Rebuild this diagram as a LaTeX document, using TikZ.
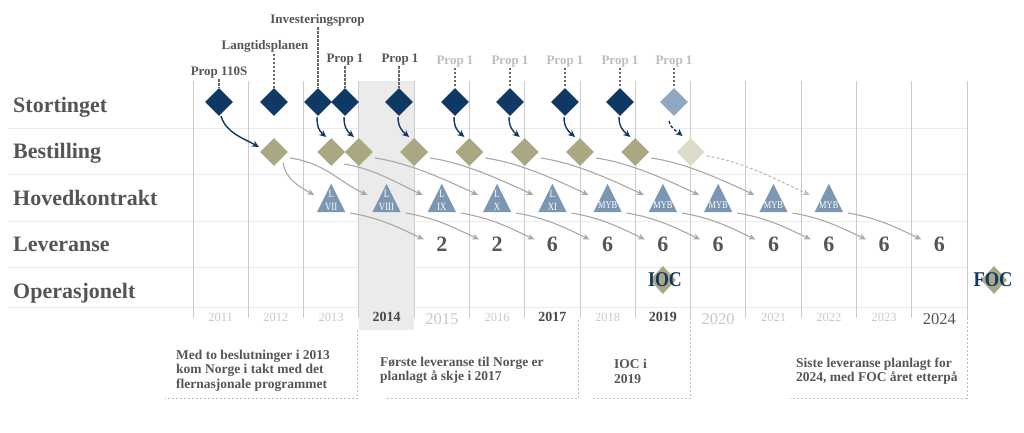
\documentclass[tikz,border=0pt]{standalone}
\usepackage{fontspec}
\setmainfont{Liberation Serif}
\usetikzlibrary{shapes.geometric,arrows.meta,calc}
\definecolor{navy}{HTML}{103864}
\definecolor{navylt}{HTML}{8FA7BF}
\definecolor{khaki}{HTML}{A9A883}
\definecolor{khakilt}{HTML}{DDDCCA}
\definecolor{tri}{HTML}{7B97B3}
\definecolor{txt}{HTML}{555555}
\definecolor{yrlt}{HTML}{C8C8C8}
\definecolor{proplt}{HTML}{BDBDBD}
\definecolor{gridv}{HTML}{CCCCCC}
\definecolor{gridh}{HTML}{ECECEC}
\definecolor{arrg}{HTML}{A8A8A8}
\definecolor{arrlt}{HTML}{BBBBBB}
\definecolor{hlgray}{HTML}{EBEBEB}
\definecolor{dashgray}{HTML}{666666}
\definecolor{boxgray}{HTML}{BBBBBB}
\begin{document}
\begin{tikzpicture}[x=1pt,y=-1pt,
  sdia/.style={diamond,minimum width=28pt,minimum height=28pt,inner sep=0pt,fill=navy},
  bdia/.style={diamond,minimum width=28pt,minimum height=28pt,inner sep=0pt,fill=khaki},
  tribox/.style={rectangle,minimum width=28pt,minimum height=28pt,inner sep=0pt},
  trl/.style={inner sep=0pt,text=white,font=\fontsize{11}{11}\selectfont},
  rowlab/.style={anchor=base west,inner sep=0pt,text=txt,font=\fontsize{22}{22}\selectfont\bfseries},
  toplab/.style={anchor=base,inner sep=1pt,text=txt,font=\fontsize{13}{13}\selectfont\bfseries},
  levnum/.style={inner sep=0pt,text=txt,font=\fontsize{22}{22}\selectfont\bfseries},
  yrsmall/.style={anchor=base,inner sep=0pt,text=yrlt,font=\fontsize{12.5}{12.5}\selectfont},
  yrdark/.style={anchor=base,inner sep=0pt,text=txt!85!black,font=\fontsize{14}{14}\selectfont\bfseries},
  yrbig/.style={anchor=base,inner sep=0pt,text=yrlt,font=\fontsize{16.5}{16.5}\selectfont},
  boxtxt/.style={anchor=base west,inner sep=0pt,text=txt,font=\fontsize{13.5}{13.5}\selectfont\bfseries},
  garr/.style={draw=arrg,line width=1.1pt,-{Stealth[length=7pt,width=6pt]}},
  narr/.style={draw=navy,line width=1.4pt,-{Stealth[length=7pt,width=6.5pt]}},
  dashc/.style={draw=dashgray,line width=1.2pt,dash pattern=on 2.5pt off 1.5pt},
  boxedge/.style={draw=boxgray,line width=0.8pt,dash pattern=on 2pt off 2pt},
  opdia/.style={diamond,minimum width=26pt,minimum height=28pt,inner sep=0pt,fill=khaki},
  optxt/.style={inner sep=0pt,text=navy,font=\fontsize{21}{21}\selectfont\bfseries}
]
\useasboundingbox (0,0) rectangle (1024,432);
% highlighted year
\fill[color=hlgray] (358.86,81) rectangle (414.14,330);
% grid
\foreach \y in {128,174.5,221,267,307} \draw[color=gridh,line width=1pt] (8,\y) -- (967,\y);
\foreach \i in {0,...,14} \draw[color=gridv,line width=0.9pt] ({193+55.2857*\i},81) -- ({193+55.2857*\i},318);
% row labels
\node[rowlab] (rS) at (13,112) {Stortinget};
\node[rowlab] (rB) at (13,158.5) {Bestilling};
\node[rowlab] (rH) at (13,205) {Hovedkontrakt};
\node[rowlab] (rL) at (13,251.5) {Leveranse};
\node[rowlab] (rO) at (13,298) {Operasjonelt};
% Stortinget
\node[sdia] (S1) at (219,102) {};
\node[sdia] (S2) at (274,102) {};
\node[sdia] (S3) at (318,102) {};
\node[sdia] (S4) at (345,102) {};
\node[sdia] (S5) at (399,102) {};
\node[sdia] (S6) at (455,102) {};
\node[sdia] (S7) at (510,102) {};
\node[sdia] (S8) at (565,102) {};
\node[sdia] (S9) at (620,102) {};
\node[sdia,fill=navylt] (S10) at (674,102) {};
% top labels
\node[toplab] (P0) at (219,75.5) {Prop 110S};
\node[toplab] (P1) at (265,49.5) {Langtidsplanen};
\node[toplab] (P2) at (317.5,23.3) {Investeringsprop};
\node[toplab] (P3) at (345,62.3) {Prop 1};
\node[toplab] (P4) at (400,62.3) {Prop 1};
\node[toplab,text=proplt] (P5) at (455,64) {Prop 1};
\node[toplab,text=proplt] (P6) at (510,64) {Prop 1};
\node[toplab,text=proplt] (P7) at (565,64) {Prop 1};
\node[toplab,text=proplt] (P8) at (620,64) {Prop 1};
\node[toplab,text=proplt] (P9) at (674,64) {Prop 1};
\draw[dashc] (P0.south -| S1.north) -- (S1.north);
\draw[dashc] (P1.south -| S2.north) -- (S2.north);
\draw[dashc] (P2.south -| S3.north) -- (S3.north);
\draw[dashc] (P3.south -| S4.north) -- (S4.north);
\draw[dashc] (P4.south -| S5.north) -- (S5.north);
\draw[dashc] (P5.south -| S6.north) -- (S6.north);
\draw[dashc] (P6.south -| S7.north) -- (S7.north);
\draw[dashc] (P7.south -| S8.north) -- (S8.north);
\draw[dashc] (P8.south -| S9.north) -- (S9.north);
\draw[dashc] (P9.south -| S10.north) -- (S10.north);
% Bestilling
\node[bdia] (D1) at (274,152) {};
\node[bdia] (D2) at (331.2,152) {};
\node[bdia] (D3) at (358.9,152) {};
\node[bdia] (D4) at (414.1,152) {};
\node[bdia] (D5) at (469.4,152) {};
\node[bdia] (D6) at (524.7,152) {};
\node[bdia] (D7) at (580,152) {};
\node[bdia] (D8) at (635.3,152) {};
\node[bdia,fill=khakilt] (D9) at (690.6,152) {};
% Hovedkontrakt
\foreach \n/\x in {1/331.2,2/386.5,3/441.8,4/497.1,5/552.4,6/607.6,7/662.9,8/718.2,9/773.5,10/828.8} {
  \node[tribox] (T\n) at (\x,198) {};
  \fill[color=tri] (T\n.south west) -- (T\n.south east) -- (T\n.north) -- cycle;
}
\foreach \n/\r in {1/VII,2/VIII,3/IX,4/X,5/XI} {
  \node[trl] (TA\n) at ($(T\n.center)+(0,-4)$) {\scalebox{0.8}[1]{L}};
  \node[trl] (TB\n) at ($(T\n.center)+(0,9)$) {\scalebox{0.8}[1]{\r}};
}
\foreach \n in {6,...,10} {
  \node[trl,font=\fontsize{10.5}{10.5}\selectfont] (TB\n) at ($(T\n.center)+(0,7.5)$) {\scalebox{0.8}[1]{MYB}};
}
% Leveranse
\foreach \n/\x/\v in {1/441.8/2,2/497.1/2,3/552.4/6,4/607.6/6,5/662.9/6,6/718.2/6,7/773.5/6,8/828.8/6,9/884.1/6,10/939.4/6}
  \node[levnum] (L\n) at (\x,244.5) {\v};
% Operasjonelt
\node[opdia] (IOCd) at (662.9,280) {};
\node[optxt] (IOC) at (665,280) {\scalebox{0.85}[1]{IOC}};
\node[opdia] (FOCd) at (994,280) {};
\node[optxt] (FOC) at (993,280) {\scalebox{0.88}[1]{FOC}};
% arrows Stortinget -> Bestilling
\draw[narr] ($(S1.center)+(2,14)$) .. controls +(5,17) and +(-16,-9) .. ($(D1.center)+(-15,-5)$);
\foreach \a/\b in {S3/D2,S4/D3,S5/D4,S6/D5,S7/D6,S8/D7,S9/D8}
  \draw[narr] ($(\a.center)+(-1,15)$) .. controls +(0,10) and +(-7,-6) .. ($(\b.center)+(-5,-15)$);
\draw[narr,dash pattern=on 3pt off 2pt] ($(S10.center)+(-5,19)$) .. controls +(1,7) and +(-5,-4) .. ($(D9.center)+(-8,-16)$);
% arrows Bestilling -> Hovedkontrakt
\draw[garr] ($(D1.center)+(9,11)$) .. controls +(3,17) and +(-14,-8) .. ($(T1.center)+(-17,-3)$);
\draw[garr] ($(D2.center)+(13,12)$) .. controls +(30,5) and +(-28,-13) .. ($(T3.center)+(-19,-3)$);
\foreach \a/\b in {D1/T2,D3/T4,D4/T5,D5/T6,D6/T7,D7/T8,D8/T9}
  \draw[garr] ($(\a.center)+(16,6)$) .. controls +(35,5) and +(-30,-14) .. ($(\b.center)+(-19,-3)$);
\draw[garr,draw=arrlt,dash pattern=on 3pt off 2pt] ($(D9.center)+(16,4)$) .. controls +(35,5) and +(-30,-14) .. ($(T10.center)+(-19,-3)$);
% arrows Hovedkontrakt -> Leveranse
\foreach \n in {1,...,10}
  \draw[garr] ($(T\n.center)+(19,15)$) .. controls +(30,5) and +(-25,-12) .. ($(L\n.center)+(-18,-5)$);
% years
\node[yrsmall] (y11) at (220.6,321.5) {2011};
\node[yrsmall] (y12) at (275.9,321.5) {2012};
\node[yrsmall] (y13) at (331.2,321.5) {2013};
\node[yrdark] (y14) at (386.5,321.5) {2014};
\node[yrbig] (y15) at (441.8,324) {2015};
\node[yrsmall] (y16) at (497.1,321.5) {2016};
\node[yrdark] (y17) at (552.4,321.5) {2017};
\node[yrsmall] (y18) at (607.6,321.5) {2018};
\node[yrdark] (y19) at (662.9,321.5) {2019};
\node[yrbig] (y20) at (718.2,324) {2020};
\node[yrsmall] (y21) at (773.5,321.5) {2021};
\node[yrsmall] (y22) at (828.8,321.5) {2022};
\node[yrsmall] (y23) at (884.1,321.5) {2023};
\node[yrbig,text=txt] (y24) at (939.4,324) {2024};
% comment boxes
\draw[boxedge] (357.5,330) -- (357.5,398) -- (165,398);
\draw[boxedge] (578.5,320) -- (578.5,398) -- (385,398);
\draw[boxedge] (690.5,318) -- (690.5,398) -- (593,398);
\draw[boxedge] (967,318) -- (967,398) -- (790,398);
\node[boxtxt] (c1a) at (176,359) {Med to beslutninger i 2013};
\node[boxtxt] (c1b) at (176,373.5) {kom Norge i takt med det};
\node[boxtxt] (c1c) at (176,388) {flernasjonale programmet};
\node[boxtxt] (c2a) at (380,366) {Første leveranse til Norge er};
\node[boxtxt] (c2b) at (380,380.5) {planlagt å skje i 2017};
\node[boxtxt] (c3a) at (614,368.5) {IOC i};
\node[boxtxt] (c3b) at (614,383) {2019};
\node[boxtxt] (c4a) at (796,367) {Siste leveranse planlagt for};
\node[boxtxt] (c4b) at (796,381.5) {2024, med FOC året etterpå};
\end{tikzpicture}
\end{document}
